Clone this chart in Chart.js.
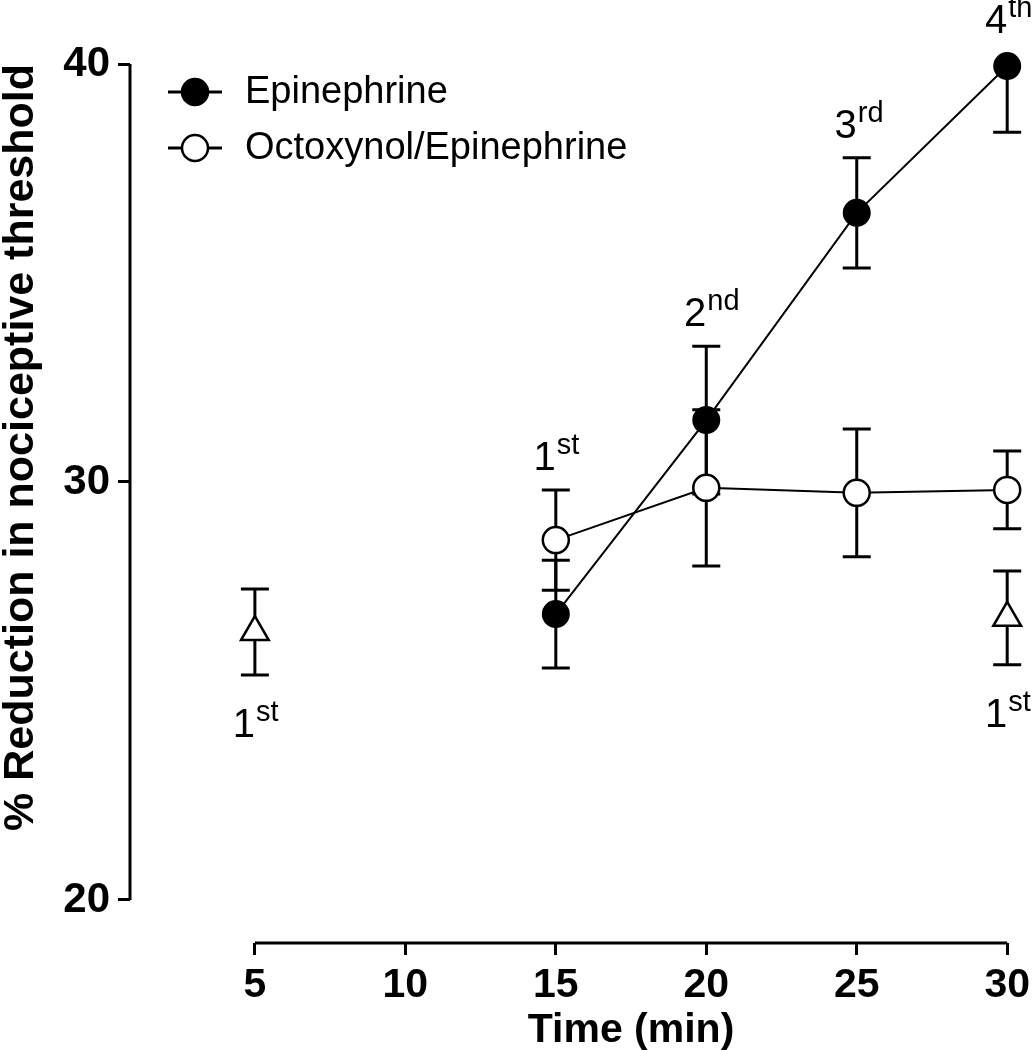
<!DOCTYPE html>
<html>
<head>
<meta charset="utf-8">
<script src="https://cdn.jsdelivr.net/npm/chart.js@4.4.1/dist/chart.umd.min.js"></script>
<style>
  html, body { margin: 0; padding: 0; background: #fff; }
  #wrap { width: 1036px; height: 1050px; position: relative; }
</style>
</head>
<body>
<div id="wrap"><canvas id="chart"></canvas></div>
<script>
// values (mean and error-bar half length)
const times = [15, 20, 25, 30];
const epiMean = [26.84, 31.48, 36.44, 39.95];
const epiErr = [1.29, 1.77, 1.32, 1.58];
const octMean = [28.61, 29.86, 29.74, 29.81];
const octErr = [1.20, 1.87, 1.53, 0.93];
const singleTimes = [5, 30];
const singleMean = [26.41, 26.75];
const singleErr = [1.03, 1.12];

const xTicks = [5, 10, 15, 20, 25, 30];
const yTicks = [20, 30, 40];

// ordinal labels: [dataset, point index, number, suffix, side]
const ordinals = [
    [1, 0, '1', 'st', 'above'],
    [0, 1, '2', 'nd', 'above'],
    [0, 2, '3', 'rd', 'above'],
    [0, 3, '4', 'th', 'above'],
    [2, 0, '1', 'st', 'below'],
    [2, 1, '1', 'st', 'below']
];

const FONT = '"Liberation Sans", Arial, Helvetica, sans-serif';

function pts(xs, ys) {
    return xs.map((x, i) => ({ x: x, y: ys[i] }));
}

const errors = [epiErr, octErr, singleErr];

const errorBars = {
    id: 'errorBars',
    beforeDatasetsDraw(chart) {
        const ctx = chart.ctx;
        const y = chart.scales.y;
        const top = chart.chartArea.top;
        ctx.save();
        ctx.strokeStyle = '#000';
        ctx.lineWidth = 3;
        chart.data.datasets.forEach((ds, di) => {
            const meta = chart.getDatasetMeta(di);
            meta.data.forEach((el, i) => {
                const v = ds.data[i].y;
                const e = errors[di][i];
                const yHi = Math.max(y.getPixelForValue(v + e), top);
                const yLo = y.getPixelForValue(v - e);
                ctx.beginPath();
                ctx.moveTo(el.x, yHi);
                ctx.lineTo(el.x, yLo);
                ctx.moveTo(el.x - 14, yLo);
                ctx.lineTo(el.x + 14, yLo);
                if (y.getPixelForValue(v + e) >= top) {
                    ctx.moveTo(el.x - 14, yHi);
                    ctx.lineTo(el.x + 14, yHi);
                }
                ctx.stroke();
            });
        });
        ctx.restore();
    }
};

const decorations = {
    id: 'decorations',
    afterDraw(chart) {
        const ctx = chart.ctx;
        const xs = chart.scales.x;
        const ys = chart.scales.y;
        const area = chart.chartArea;
        ctx.save();
        ctx.strokeStyle = '#000';
        ctx.fillStyle = '#000';
        ctx.lineWidth = 3;

        // offset axis lines
        ctx.beginPath();
        ctx.moveTo(area.left, ys.getPixelForValue(40));
        ctx.lineTo(area.left, ys.getPixelForValue(20));
        ctx.moveTo(xs.getPixelForValue(5), area.bottom);
        ctx.lineTo(xs.getPixelForValue(30), area.bottom);
        ctx.stroke();

        // x title centred on the axis line
        ctx.font = 'bold 41px ' + FONT;
        ctx.textAlign = 'center';
        ctx.textBaseline = 'alphabetic';
        ctx.fillText('Time (min)', (xs.getPixelForValue(5) + xs.getPixelForValue(30)) / 2, 1042);

        // legend
        const legend = [
            ['Epinephrine', '#000'],
            ['Octoxynol/Epinephrine', '#fff']
        ];
        legend.forEach((item, i) => {
            const ly = 92 + i * 56;
            ctx.lineWidth = 3;
            ctx.beginPath();
            ctx.moveTo(168, ly);
            ctx.lineTo(222, ly);
            ctx.stroke();
            ctx.beginPath();
            ctx.arc(195, ly, 13, 0, Math.PI * 2);
            ctx.fillStyle = item[1];
            ctx.fill();
            ctx.lineWidth = 2.5;
            ctx.stroke();
            ctx.fillStyle = '#000';
            ctx.font = '38px ' + FONT;
            ctx.textAlign = 'left';
            ctx.textBaseline = 'middle';
            ctx.fillText(item[0], 245, ly + 1);
        });

        // ordinal annotations
        ordinals.forEach(o => {
            const ds = chart.data.datasets[o[0]];
            const el = chart.getDatasetMeta(o[0]).data[o[1]];
            const v = ds.data[o[1]].y;
            const e = errors[o[0]][o[1]];
            ctx.textAlign = 'left';
            ctx.textBaseline = 'alphabetic';
            ctx.font = '40px ' + FONT;
            const dw = ctx.measureText(o[2]).width;
            let base;
            if (o[4] === 'above') {
                const capTop = Math.max(ys.getPixelForValue(v + e), area.top);
                base = Math.min(capTop, el.y - 13) - 20;
            } else {
                base = ys.getPixelForValue(v - e) + 62;
            }
            const x0 = el.x - dw;
            ctx.fillText(o[2], x0, base);
            ctx.font = '29px ' + FONT;
            ctx.fillText(o[3], x0 + dw + 1, base - 16);
        });
        ctx.restore();
    }
};

new Chart(document.getElementById('chart'), {
    type: 'scatter',
    data: {
        datasets: [
            {
                label: 'Epinephrine',
                data: pts(times, epiMean),
                showLine: true,
                borderColor: '#000',
                borderWidth: 2,
                pointStyle: 'circle',
                pointRadius: 13,
                pointBackgroundColor: '#000',
                pointBorderColor: '#000',
                pointBorderWidth: 2
            },
            {
                label: 'Octoxynol/Epinephrine',
                data: pts(times, octMean),
                showLine: true,
                borderColor: '#000',
                borderWidth: 2,
                pointStyle: 'circle',
                pointRadius: 13,
                pointBackgroundColor: '#fff',
                pointBorderColor: '#000',
                pointBorderWidth: 2.5
            },
            {
                label: 'single',
                data: pts(singleTimes, singleMean),
                showLine: false,
                pointStyle: 'triangle',
                pointRadius: 16,
                pointBackgroundColor: '#fff',
                pointBorderColor: '#000',
                pointBorderWidth: 2.5
            }
        ]
    },
    options: {
        responsive: true,
        maintainAspectRatio: false,
        animation: false,
        clip: false,
        layout: {
            padding: { top: 64, right: 28, left: 0, bottom: 0 }
        },
        plugins: {
            legend: { display: false },
            tooltip: { enabled: false }
        },
        scales: {
            x: {
                type: 'linear',
                min: 0.85,
                max: 30,
                afterBuildTicks: s => { s.ticks = xTicks.map(v => ({ value: v })); },
                afterFit: s => { s.height = 107; },
                border: { display: false },
                grid: {
                    drawOnChartArea: false,
                    drawTicks: true,
                    tickLength: 12,
                    tickWidth: 3,
                    tickColor: '#000'
                },
                ticks: {
                    color: '#000',
                    padding: 6,
                    maxRotation: 0,
                    font: { family: FONT, size: 41, weight: 'bold' }
                }
            },
            y: {
                type: 'linear',
                min: 18.97,
                max: 40,
                afterBuildTicks: s => { s.ticks = yTicks.map(v => ({ value: v })); },
                afterFit: s => { s.width = 130; },
                border: { display: false },
                grid: {
                    drawOnChartArea: false,
                    drawTicks: true,
                    tickLength: 12,
                    tickWidth: 3,
                    tickColor: '#000'
                },
                ticks: {
                    color: '#000',
                    padding: 8,
                    font: { family: FONT, size: 42, weight: 'bold' }
                },
                title: {
                    display: true,
                    text: '% Reduction in nociceptive threshold',
                    color: '#000',
                    align: 'end',
                    padding: { top: 0, bottom: 0 },
                    font: { family: FONT, size: 43, weight: 'bold', lineHeight: 1 }
                }
            }
        }
    },
    plugins: [errorBars, decorations]
});
</script>
</body>
</html>
